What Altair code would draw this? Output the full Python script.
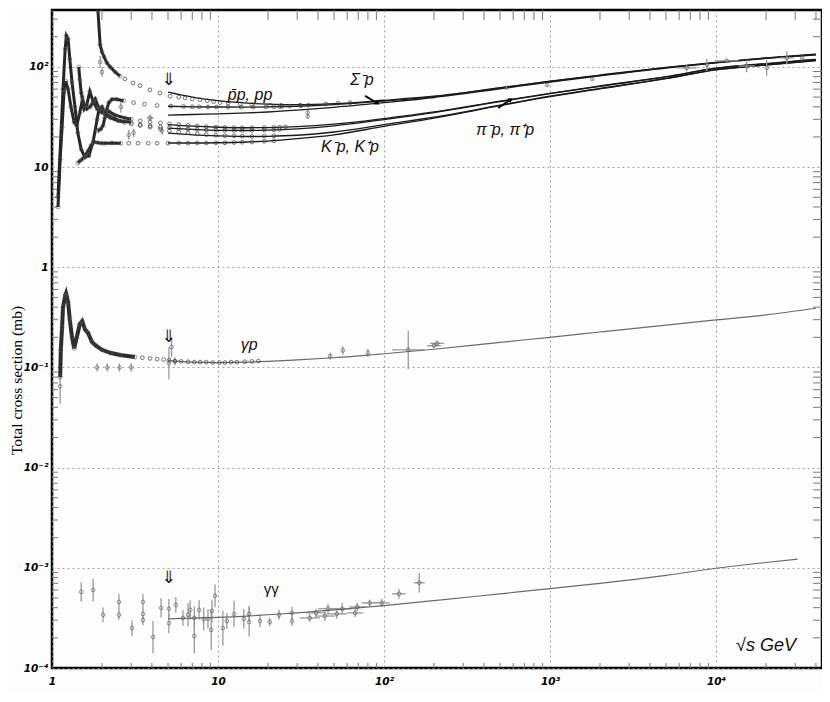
import altair as alt
import pandas as pd

# ---------------- fitted curves (sqrt(s) in GeV, sigma in mb) ----------------
FIT_S = [5, 7, 10, 15, 20, 30, 50, 100, 200, 500, 1000, 2000, 5000, 10000, 20000, 40000]
PBARP_FIT = [56, 50, 46, 43.5, 42.5, 42, 43, 46.5, 51, 62, 72, 83, 99, 111, 123, 134]
PP_FIT = [40.5, 40, 39.8, 39.7, 39.9, 40.5, 42, 45.5, 50.5, 61.5, 71.5, 82.5, 98.5, 110.5, 122.5, 133]
SIGMAP_FIT = [33, 33.5, 34, 34.8, 35.5, 37, 39.5, 44, 49.5, 60.5, 70.5, 81.5, 97.5, 109.5, 121.5, 132]
PIM_FIT = [26.5, 25.6, 25, 24.7, 24.8, 25.3, 26.8, 30.5, 35.5, 45.5, 54.5, 64.5, 80, 97, 108, 119]
PIP_FIT = [24.5, 23.8, 23.3, 23.2, 23.4, 24.1, 25.8, 29.8, 35, 45, 54, 64, 79.5, 96.5, 107.5, 118.5]
KM_FIT = [21.8, 21, 20.5, 20.2, 20.3, 20.8, 22.4, 26.5, 31.5, 41.5, 51, 61, 77, 94, 105, 116]
KP_FIT = [17.4, 17.4, 17.5, 17.8, 18.2, 19.2, 21, 25.5, 30.8, 41, 50.5, 60.5, 76.5, 93.5, 104.5, 115.5]
GP_FIT = [0.117, 0.113, 0.112, 0.113, 0.115, 0.119, 0.125, 0.137, 0.152, 0.178, 0.2, 0.226, 0.265, 0.298, 0.335, 0.39]
GG_FIT_S = [5, 7, 10, 15, 20, 30, 50, 100, 200, 500, 1000, 2000, 5000, 10000, 20000, 31000]
GG_FIT = [3.1e-4, 3.15e-4, 3.2e-4, 3.3e-4, 3.4e-4, 3.55e-4, 3.8e-4, 4.2e-4, 4.7e-4, 5.5e-4,
          6.2e-4, 7.0e-4, 8.4e-4, 9.9e-4, 1.13e-3, 1.22e-3]

# ---------------- dense low-energy data ----------------
PBARP_LO_S = [1.89, 1.95, 2.0, 2.06, 2.14, 2.24, 2.4, 2.57]
PBARP_LO = [370, 166, 141, 126, 110, 100, 89, 81]
PIP_LO_S = [1.087, 1.13, 1.165, 1.2, 1.22, 1.25, 1.28, 1.32, 1.375, 1.43, 1.5, 1.58, 1.67, 1.77,
            1.87, 1.92, 2.0, 2.08, 2.24, 2.57, 3.0]
PIP_LO = [5, 20, 60, 150, 205, 190, 120, 70, 40, 22, 15, 12.5, 13, 18, 30, 38, 40, 35, 32, 29, 28]
PIM_LO_S = [1.087, 1.12, 1.15, 1.18, 1.21, 1.25, 1.30, 1.36, 1.41, 1.47, 1.52, 1.56, 1.62, 1.69,
            1.77, 1.87, 2.0, 2.2, 2.4, 2.75, 3.0]
PIM_LO = [4, 12, 25, 55, 72, 60, 40, 28, 26, 35, 46, 38, 42, 57, 45, 38, 35, 36, 33, 31, 30]
KM_LO_S = [1.45, 1.47, 1.5, 1.52, 1.56, 1.62, 1.7, 1.78, 1.82, 1.9, 2.0, 2.1, 2.25, 2.5, 2.75]
KM_LO = [100, 75, 55, 50, 42, 38, 40, 46, 48, 40, 36, 33, 31, 29, 28]
KP_LO_S = [1.43, 1.47, 1.52, 1.58, 1.65, 1.72, 1.8, 1.9, 2.0, 2.1, 2.3, 2.6]
KP_LO = [11, 11.5, 12, 13, 14.5, 16.5, 17.8, 17.5, 17.3, 17.3, 17.4, 17.3]
PP_LO_S = [1.88, 1.92, 1.97, 2.03, 2.08, 2.14, 2.2, 2.3, 2.45, 2.7]
PP_LO = [23, 23.5, 24, 26, 31, 38, 44, 47.5, 47.5, 46]
GP_LO_S = [1.12, 1.13, 1.15, 1.165, 1.2, 1.215, 1.25, 1.28, 1.32, 1.36, 1.41, 1.47, 1.52, 1.58,
           1.65, 1.74, 1.84, 2.0, 2.24, 2.57, 3.16]
GP_LO = [0.08, 0.15, 0.25, 0.4, 0.52, 0.55, 0.45, 0.3, 0.2, 0.155, 0.2, 0.27, 0.29, 0.24, 0.22,
         0.18, 0.165, 0.15, 0.14, 0.133, 0.127]

# ---------------- medium-energy data points ----------------
PBARP_MID_S = [2.75, 3.07, 3.39, 3.89, 4.47, 5.14, 5.8, 6.33, 7.0, 7.79, 8.6, 9.4, 10.3, 11.5,
               13.6, 16, 20.6, 24, 31.2]
PBARP_MID = [76, 69, 65, 59, 55, 51, 50, 49, 48, 47, 46, 45, 44, 43.5, 42.7, 42, 41.5, 41.5, 41.5]
PP_MID_S = [3.1, 3.6, 4.3, 5.2, 6.2, 7.0, 7.7, 8.7, 9.8, 11.5, 13.8, 16.3, 19.4, 21.7, 23.5, 24.3,
            27, 31.6, 35, 44.7, 52.8, 62.5]
PP_MID = [44, 42.5, 41.2, 40.6, 40.3, 40.1, 40, 39.9, 39.8, 39.8, 39.7, 39.8, 39.9, 40, 40.2, 40.3,
          40.6, 41, 41.5, 42.6, 43.5, 44]
PIM_MID_S = [3.4, 3.9, 4.5, 5.1, 5.8, 6.6, 7.5, 8.5, 9.7, 11, 12.5, 14, 16, 19, 21.7, 23.5, 25.5]
PIM_MID = [29, 28.2, 27.6, 27, 26.6, 26.1, 25.7, 25.4, 25.1, 24.9, 24.8, 24.7, 24.7, 24.8, 24.9,
           25.0, 25.2]
PIP_MID_S = [3.4, 3.9, 4.5, 5.1, 5.8, 6.6, 7.5, 8.5, 9.7, 11, 12.5, 14, 16, 19, 21.7, 23.5]
PIP_MID = [26.5, 25.8, 25.2, 24.7, 24.3, 24.0, 23.7, 23.5, 23.4, 23.3, 23.2, 23.2, 23.2, 23.4,
           23.6, 23.8]
KM_MID_S = [3.0, 3.4, 3.9, 4.5, 5.1, 5.8, 6.6, 7.5, 8.5, 9.7, 11, 12.5, 14, 16, 19, 21.7]
KM_MID = [27, 26, 25, 24, 23, 22.4, 22, 21.5, 21.1, 20.8, 20.6, 20.5, 20.4, 20.3, 20.4, 20.5]
KP_MID_S = [2.9, 3.3, 3.8, 4.3, 5.0, 5.8, 6.6, 7.5, 8.5, 9.7, 11, 12.5, 14, 16, 19, 21.7]
KP_MID = [17.3, 17.3, 17.3, 17.3, 17.3, 17.4, 17.3, 17.4, 17.4, 17.5, 17.5, 17.6, 17.7, 17.8,
          18.1, 18.3]
GP_MID_S = [3.5, 3.9, 4.3, 4.7, 5.06, 5.5, 6, 6.6, 7.2, 7.8, 8.5, 9.3, 10.2, 11, 12, 13, 14.5, 16,
            17.5]
GP_MID = [0.125, 0.123, 0.121, 0.12, 0.118, 0.116, 0.115, 0.114, 0.113, 0.113, 0.113, 0.112,
          0.112, 0.112, 0.113, 0.113, 0.114, 0.115, 0.116]

# ---------------- isolated points with error bars ----------------
HAD_SC_S = [1.95, 2.0, 2.6, 2.9, 3.1, 3.9, 4.6, 34.7, 34.7, 546, 960, 1800, 6650, 8800, 11600,
            15300, 20200, 26700, 33000]
HAD_SC_V = [112, 89, 40, 21, 22, 31, 23, 35, 32, 62, 66, 75.8, 97.7, 105, 115, 102, 98, 123, 123]
HAD_SC_E = [0.15, 0.12, 0.15, 0.12, 0.1, 0.08, 0.1, 0.05, 0.05, 0.03, 0.03, 0.03, 0.08, 0.15,
            0.05, 0.15, 0.2, 0.17, 0.06]
HAD_SC_XE = [0, 0, 0, 0, 0, 0.05, 0, 0, 0, 0, 0, 0, 0.15, 0, 0.18, 0.12, 0, 0.1, 0]

GP_SC_S = [1.12, 1.87, 2.15, 2.55, 3.0, 5.06, 5.25, 5.5, 47.4, 56.5, 80, 140, 200, 209]
GP_SC_V = [0.065, 0.1, 0.1, 0.1, 0.1, 0.11, 0.16, 0.115, 0.13, 0.148, 0.14, 0.15, 0.165, 0.174]
GP_SC_E = [0.5, 0.1, 0.1, 0.1, 0.1, 0.45, 0.25, 0.1, 0.08, 0.1, 0.1, 0.55, 0.05, 0.06]
GP_SC_XE = [0, 0, 0, 0, 0, 0, 0, 0, 0, 0, 0, 0.25, 0.1, 0.1]

GG_S = [1.50, 1.77, 2.03, 2.53, 2.53, 3.03, 3.53, 3.53, 3.53, 4.06, 4.54, 5.06, 5.06, 5.57, 6.15,
        6.6, 6.8, 7.2, 7.2, 7.7, 8.2, 8.7, 9.1, 9.2, 9.6, 10.7, 11.3, 12.5, 14.3, 15.4, 15.4, 17.9,
        20.5, 23.3, 27.9, 27.9, 35.7, 38.9, 44, 46, 52, 56, 67, 69, 82, 97, 123, 163]
GG_V = [5.75e-4, 6.0e-4, 3.4e-4, 4.57e-4, 3.4e-4, 2.5e-4, 4.57e-4, 3.47e-4, 3.0e-4, 2.04e-4,
        3.98e-4, 3.9e-4, 2.8e-4, 4.27e-4, 3.16e-4, 3.4e-4, 3.8e-4, 3.16e-4, 2.09e-4, 3.8e-4,
        3.09e-4, 3.09e-4, 2.4e-4, 3.72e-4, 5.25e-4, 2.5e-4, 2.95e-4, 3.47e-4, 3.09e-4, 3.47e-4,
        2.88e-4, 2.95e-4, 2.88e-4, 3.4e-4, 2.95e-4, 3.55e-4, 3.16e-4, 3.55e-4, 3.3e-4, 3.9e-4,
        3.47e-4, 3.9e-4, 3.55e-4, 4.07e-4, 4.47e-4, 4.47e-4, 5.5e-4, 7.1e-4]
GG_E = [0.25, 0.3, 0.18, 0.2, 0.12, 0.2, 0.2, 0.12, 0.12, 0.45, 0.25, 0.25, 0.25, 0.2, 0.2, 0.3,
        0.25, 0.3, 0.5, 0.25, 0.3, 0.25, 0.6, 0.3, 0.3, 0.5, 0.2, 0.35, 0.25, 0.2, 0.4, 0.15, 0.1,
        0.12, 0.12, 0.15, 0.1, 0.1, 0.12, 0.12, 0.12, 0.15, 0.1, 0.1, 0.08, 0.1, 0.12, 0.25]
GG_XE = [0] * 36 + [0.15, 0.15, 0.15, 0.15, 0.15, 0.15, 0.12, 0.12, 0.12, 0.12, 0.1, 0.08]

# ---------------- annotations ----------------
LABEL_TEXT = ["p\u0304p, pp", "\u03a3\u207bp", "\u03c0\u207bp, \u03c0\u207ap", "K\u207bp, K\u207ap",
              "\u03b3p"]
LABEL_S = [15.6, 73.7, 536, 62.4, 15.4]
LABEL_V = [52.5, 74.2, 23.5, 15.9, 0.168]
ARROW_S = [5.06, 5.06, 5.06]
ARROW_V = [74, 0.2, 7.9e-4]
PTR_S = [77, 488]
PTR_V = [51.4, 39]
PTR_S2 = [90.6, 575]
PTR_V2 = [43.7, 46.9]
PTR_ANGLE = [119, 56]

X_DOMAIN = [1, 43500]
Y_DOMAIN = [1e-4, 370]
X_MAJOR = [1, 10, 100, 1000, 10000]
Y_MAJOR = [1e-4, 1e-3, 1e-2, 1e-1, 1, 10, 100]
MULT = [2, 3, 4, 5, 6, 7, 8, 9]

# ---------------- build tables ----------------
def table(pairs):
    frames = []
    for name, s, v in pairs:
        frames.append(pd.DataFrame({"s": s, "v": v, "series": name}))
    return pd.concat(frames, ignore_index=True)

fit_dark = table([("pbarp", FIT_S, PBARP_FIT), ("pp", FIT_S, PP_FIT), ("sigp", FIT_S, SIGMAP_FIT),
                  ("pim", FIT_S, PIM_FIT), ("pip", FIT_S, PIP_FIT), ("km", FIT_S, KM_FIT),
                  ("kp", FIT_S, KP_FIT)])
fit_gray = table([("gp", FIT_S, GP_FIT), ("gg", GG_FIT_S, GG_FIT)])
dense_h = table([("pbarp", PBARP_LO_S, PBARP_LO), ("pip", PIP_LO_S, PIP_LO),
                 ("pim", PIM_LO_S, PIM_LO), ("km", KM_LO_S, KM_LO), ("kp", KP_LO_S, KP_LO),
                 ("pp", PP_LO_S, PP_LO)])
dense_g = table([("gp", GP_LO_S, GP_LO)])
mid = table([("pbarp", PBARP_MID_S, PBARP_MID), ("pp", PP_MID_S, PP_MID), ("pim", PIM_MID_S, PIM_MID),
             ("pip", PIP_MID_S, PIP_MID), ("km", KM_MID_S, KM_MID), ("kp", KP_MID_S, KP_MID),
             ("gp", GP_MID_S, GP_MID)])

def errtable(s, v, e, xe):
    df = pd.DataFrame({"s": s, "v": v, "e": e, "xe": xe})
    df["lo"] = df["v"] / (1 + df["e"])
    df["hi"] = df["v"] * (1 + df["e"])
    df["slo"] = df["s"] / (1 + df["xe"])
    df["shi"] = df["s"] * (1 + df["xe"])
    return df

scat = pd.concat([errtable(HAD_SC_S, HAD_SC_V, HAD_SC_E, HAD_SC_XE),
                  errtable(GP_SC_S, GP_SC_V, GP_SC_E, GP_SC_XE),
                  errtable(GG_S, GG_V, GG_E, GG_XE)], ignore_index=True)
scat_x = scat[scat["xe"] > 0]

labels = pd.DataFrame({"s": LABEL_S, "v": LABEL_V, "t": LABEL_TEXT})
arrows = pd.DataFrame({"s": ARROW_S, "v": ARROW_V})
ptr = pd.DataFrame({"s": PTR_S, "v": PTR_V, "s2": PTR_S2, "v2": PTR_V2, "a": PTR_ANGLE})

minor_x = pd.DataFrame({"s": [m * d for d in X_MAJOR for m in MULT if m * d < X_DOMAIN[1]]})
minor_y = pd.DataFrame({"v": [m * d for d in Y_MAJOR for m in MULT if m * d < Y_DOMAIN[1]]})

xs = alt.Scale(type="log", domain=X_DOMAIN, nice=False)
ys = alt.Scale(type="log", domain=Y_DOMAIN, nice=False)

X_LABELS = ("datum.value < 5 ? '1' : datum.value < 50 ? '10' : datum.value < 500 ? '10\u00b2' : "
            "datum.value < 5000 ? '10\u00b3' : '10\u2074'")
Y_LABELS = ("datum.value < 5e-4 ? '10\u207b\u2074' : datum.value < 5e-3 ? '10\u207b\u00b3' : "
            "datum.value < 5e-2 ? '10\u207b\u00b2' : datum.value < 0.5 ? '10\u207b\u00b9' : "
            "datum.value < 5 ? '1' : datum.value < 50 ? '10' : '10\u00b2'")

x_axis = alt.Axis(values=X_MAJOR, labelExpr=X_LABELS, grid=True, gridDash=[2, 3], gridColor="#8a8a8a",
                  gridWidth=0.8, ticks=False, domain=False, title=None, labelFont="DejaVu Sans",
                  labelFontStyle="italic", labelFontWeight="bold", labelFontSize=10.5, labelColor="#000",
                  labelPadding=8, labelFlush=False)
y_axis = alt.Axis(values=Y_MAJOR, labelExpr=Y_LABELS, grid=True, gridDash=[2, 3], gridColor="#8a8a8a",
                  gridWidth=0.8, ticks=False, domain=False, title="Total cross section (mb)",
                  titleFont="Liberation Serif", titleFontSize=15.5, titleFontWeight="normal",
                  titleColor="#000", titleX=-36, titleY=370, titleAlign="center",
                  titleBaseline="middle", titleAngle=-90,
                  labelFont="DejaVu Sans", labelFontStyle="italic", labelFontWeight="bold",
                  labelFontSize=10.5, labelColor="#000", labelPadding=4, labelFlush=False)


def X(f="s"):
    return alt.X(f + ":Q", scale=xs, axis=x_axis)


def Y(f="v"):
    return alt.Y(f + ":Q", scale=ys, axis=y_axis)


l_fit_dark = alt.Chart(fit_dark).mark_line(color="#1a1a1a", strokeWidth=1.3, clip=True,
                                           interpolate="monotone").encode(
    x=X(), y=Y(), detail="series:N")
l_fit_gray = alt.Chart(fit_gray).mark_line(color="#6a6a6a", strokeWidth=1.2, clip=True,
                                           interpolate="monotone").encode(
    x=X(), y=Y(), detail="series:N")
l_dense_h = alt.Chart(dense_h).mark_line(color="#262626", strokeWidth=3, clip=True).encode(
    x=X(), y=Y(), detail="series:N")
l_dense_g = alt.Chart(dense_g).mark_line(color="#2e2e2e", strokeWidth=4, clip=True).encode(
    x=X(), y=Y(), detail="series:N")
l_dense_pts = alt.Chart(pd.concat([dense_h, dense_g])).mark_point(
    shape="circle", filled=False, size=16, color="#555", strokeWidth=0.8, clip=True).encode(x=X(), y=Y())
l_mid = alt.Chart(mid).mark_point(shape="circle", filled=False, size=14, color="#3a3a3a",
                                  strokeWidth=1, clip=True).encode(x=X(), y=Y())
l_err = alt.Chart(scat).mark_rule(color="#9a9a9a", strokeWidth=1.3, clip=True).encode(
    x=X(), y=Y("lo"), y2="hi:Q")
l_errx = alt.Chart(scat_x).mark_rule(color="#9a9a9a", strokeWidth=1.3, clip=True).encode(
    x=X("slo"), x2="shi:Q", y=Y())
l_scat = alt.Chart(scat).mark_point(shape="circle", filled=False, size=14, color="#4a4a4a",
                                    strokeWidth=0.8, clip=True).encode(x=X(), y=Y())

l_labels = alt.Chart(labels).mark_text(font="Liberation Sans", fontStyle="italic", fontSize=16,
                                       color="#111").encode(x=X(), y=Y(), text="t:N")
l_gg = alt.Chart(pd.DataFrame({"s": [20.9], "v": [6.17e-4], "t": ["\u03b3\u03b3"]})).mark_text(
    font="Liberation Sans", fontSize=15, color="#111").encode(x=X(), y=Y(), text="t:N")
l_sqrt = alt.Chart(pd.DataFrame({"s": [2.0e4], "v": [1.67e-4], "t": ["\u221as GeV"]})).mark_text(
    font="Liberation Sans", fontStyle="italic", fontSize=18, color="#111").encode(x=X(), y=Y(), text="t:N")
l_arrows = alt.Chart(arrows.assign(t="\u21d3")).mark_text(font="DejaVu Sans", fontSize=17,
                                                         color="#111").encode(x=X(), y=Y(), text="t:N")
l_ptr = alt.Chart(ptr).mark_rule(color="#000", strokeWidth=1.8).encode(
    x=X(), x2="s2:Q", y=Y(), y2="v2:Q")
l_ptr_head = alt.Chart(ptr).mark_point(shape="triangle", filled=True, size=28, color="#000",
                                       opacity=1).encode(x=X("s2"), y=Y("v2"),
                                                         angle=alt.Angle("a:Q", scale=None))

tick_top = alt.Chart(minor_x).mark_rule(color="#7a7a7a", strokeWidth=1).encode(
    x=X(), y=alt.value(0), y2=alt.value(10))
tick_bot = alt.Chart(minor_x).mark_rule(color="#7a7a7a", strokeWidth=1).encode(
    x=X(), y=alt.value(653), y2=alt.value(658))
tick_left = alt.Chart(minor_y).mark_rule(color="#7a7a7a", strokeWidth=1).encode(
    y=Y(), x=alt.value(0), x2=alt.value(6))
tick_right = alt.Chart(minor_y).mark_rule(color="#7a7a7a", strokeWidth=1).encode(
    y=Y(), x=alt.value(761), x2=alt.value(770))

chart = alt.layer(
    l_fit_dark, tick_top, tick_bot, tick_left, tick_right, l_err, l_errx, l_fit_gray,
    l_dense_h, l_dense_g, l_dense_pts, l_mid, l_scat, l_labels, l_gg, l_sqrt, l_arrows,
    l_ptr, l_ptr_head
).properties(
    width=770, height=658,
    padding={"left": 44, "top": 2, "right": 0, "bottom": 26},
    autosize=alt.AutoSizeParams(type="none"),
    background="#fdfdfd",
).configure_view(stroke="#000", strokeWidth=2.5)

chart.save("out.html", embed_options={"renderer": "svg", "actions": False})
